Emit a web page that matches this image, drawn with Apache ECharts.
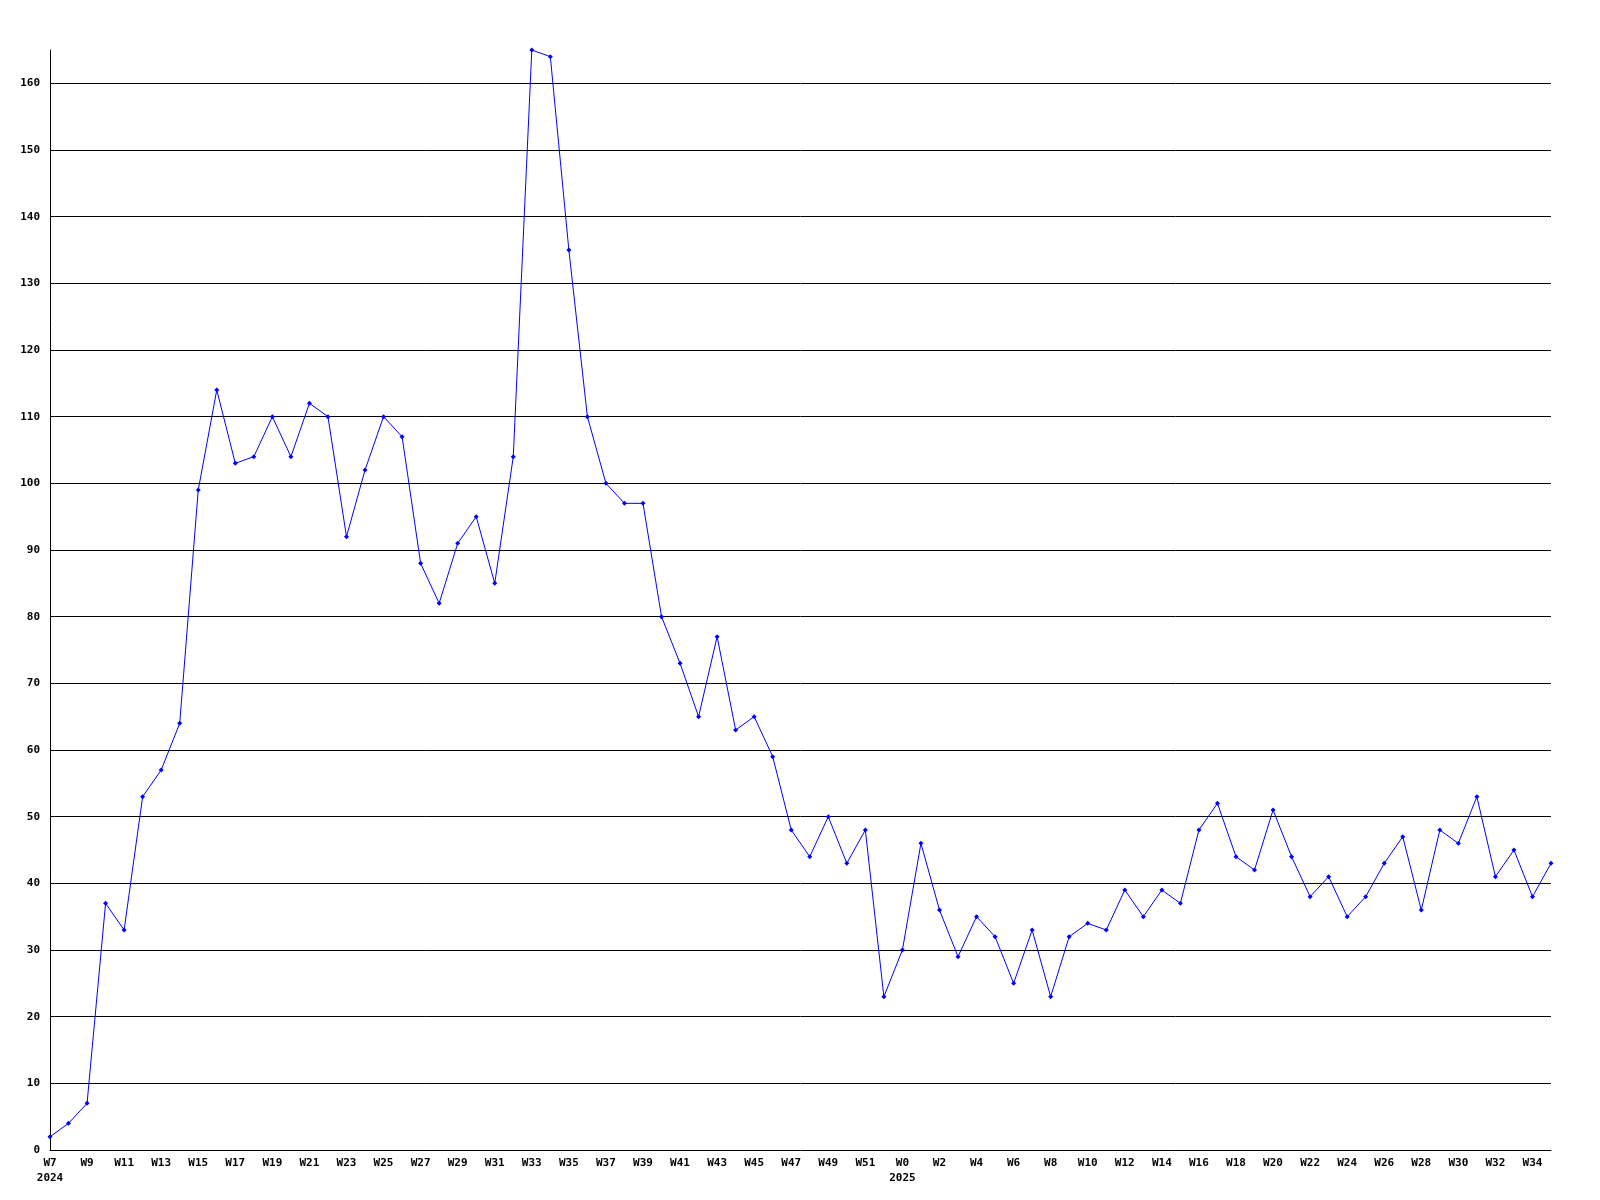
<!DOCTYPE html>
<html>
<head>
<meta charset="utf-8">
<script src="https://cdn.jsdelivr.net/npm/echarts@6/dist/echarts.min.js"></script>
<style>html,body{margin:0;padding:0;background:#fff}#c{width:1600px;height:1200px}</style>
</head>
<body>
<div id="c"></div>
<script>
const weeks2024 = ['W7','W8','W9','W10','W11','W12','W13','W14','W15','W16','W17','W18','W19','W20','W21','W22','W23','W24','W25','W26','W27','W28','W29','W30','W31','W32','W33','W34','W35','W36','W37','W38','W39','W40','W41','W42','W43','W44','W45','W46','W47','W48','W49','W50','W51','W52'];
const weeks2025 = ['W0','W1','W2','W3','W4','W5','W6','W7','W8','W9','W10','W11','W12','W13','W14','W15','W16','W17','W18','W19','W20','W21','W22','W23','W24','W25','W26','W27','W28','W29','W30','W31','W32','W33','W34','W35'];
const values2024 = [2,4,7,37,33,53,57,64,99,114,103,104,110,104,112,110,92,102,110,107,88,82,91,95,85,104,165,164,135,110,100,97,97,80,73,65,77,63,65,59,48,44,50,43,48,23];
const values2025 = [30,46,36,29,35,32,25,33,23,32,34,33,39,35,39,37,48,52,44,42,51,44,38,41,35,38,43,47,36,48,46,53,41,45,38,43];
const yearLabels = {0:'2024', 46:'2025'};

const categories = weeks2024.concat(weeks2025);
const values = values2024.concat(values2025);

const chart = echarts.init(document.getElementById('c'), null, {renderer:'canvas'});
const font = '"DejaVu Sans Mono", monospace';
chart.setOption({
  animation: false,
  backgroundColor: '#fff',
  grid: {left: 50, right: 49, top: 50, bottom: 50, containLabel: false},
  xAxis: {
    type: 'category',
    data: categories,
    boundaryGap: false,
    axisLine: {show: true, lineStyle: {color: '#000', width: 1}},
    axisTick: {show: false},
    splitLine: {show: false},
    axisLabel: {
      interval: 1,
      color: '#000',
      fontFamily: font,
      fontWeight: 'bold',
      fontSize: 11,
      lineHeight: 15,
      margin: 6,
      formatter: function (v, i) { return yearLabels[i] ? v + '\n' + yearLabels[i] : v; }
    }
  },
  yAxis: {
    type: 'value',
    min: 0,
    max: 165,
    interval: 10,
    axisLine: {show: true, lineStyle: {color: '#000', width: 1}},
    axisTick: {show: false},
    splitLine: {show: true, showMinLine: false, showMaxLine: false, lineStyle: {color: '#000', width: 1}},
    axisLabel: {
      color: '#000',
      fontFamily: font,
      fontWeight: 'bold',
      fontSize: 11,
      margin: 10,
      showMaxLabel: false
    }
  },
  series: [{
    type: 'line',
    data: values,
    symbol: 'diamond',
    symbolSize: 5,
    showAllSymbol: true,
    lineStyle: {color: '#0000ff', width: 1},
    itemStyle: {color: '#0000ff'},
    z: 3
  }]
});
</script>
</body>
</html>
